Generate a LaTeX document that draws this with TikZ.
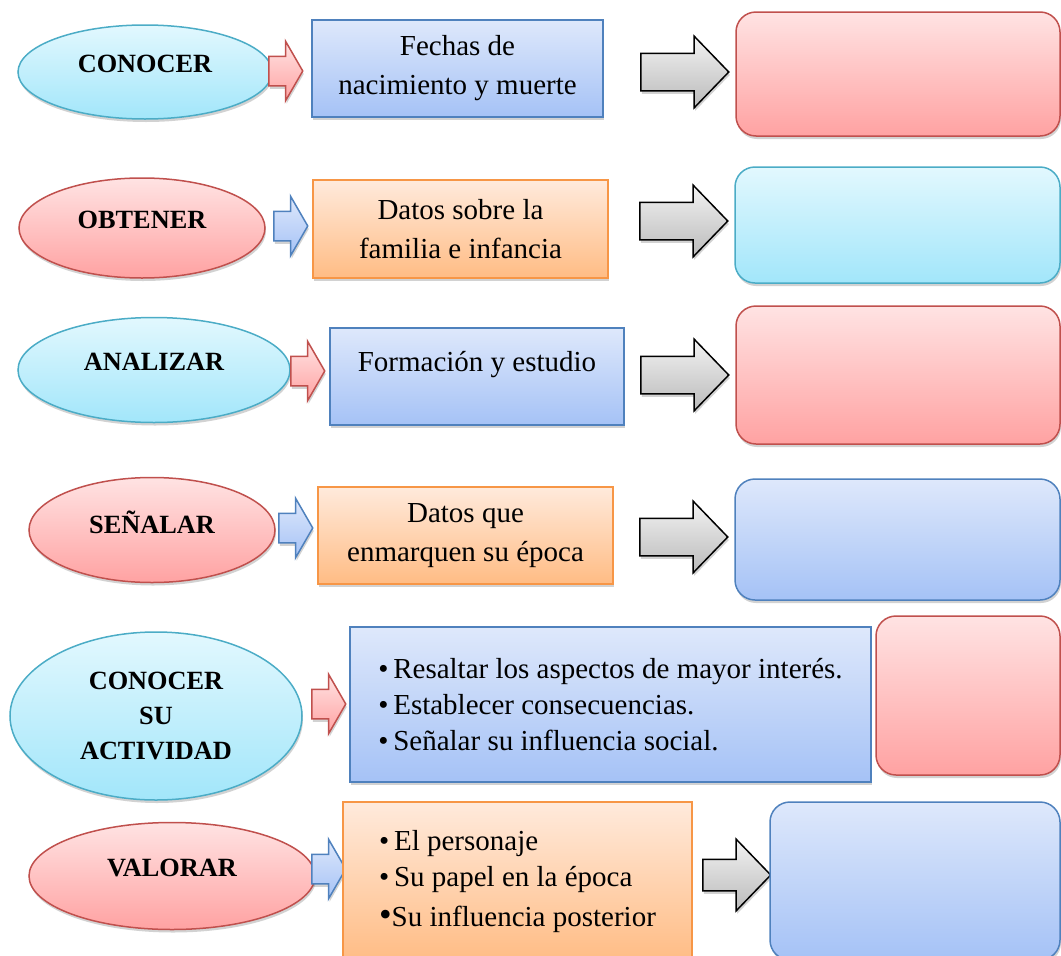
\documentclass[tikz,border=0pt]{standalone}
\usepackage{fontspec}
\setmainfont{Liberation Serif}
\usetikzlibrary{
  shapes.geometric,
  shapes.arrows,
  shadows,
  positioning
}
\definecolor{aqualine}{HTML}{4BACC6}
\definecolor{aquatop}{HTML}{E2F8FE}
\definecolor{aquabot}{HTML}{A2E6FA}
\definecolor{redline}{HTML}{C0504D}
\definecolor{redtop}{HTML}{FFE3E3}
\definecolor{redbot}{HTML}{FFA2A2}
\definecolor{blueline}{HTML}{4F81BD}
\definecolor{bluetop}{HTML}{DEE8FB}
\definecolor{bluebot}{HTML}{A5C2F6}
\definecolor{orangeline}{HTML}{F79646}
\definecolor{orangetop}{HTML}{FFEADC}
\definecolor{orangebot}{HTML}{FFBC84}

\begin{document}
\begin{tikzpicture}[
      x=1pt,y=-1pt,
      every node/.style={inner sep=0pt},
      aqua fill/.style={draw=aqualine, top color=aquatop, bottom color=aquabot},
      red fill/.style={draw=redline, top color=redtop, bottom color=redbot},
      blue fill/.style={draw=blueline, top color=bluetop, bottom color=bluebot},
      orange fill/.style={draw=orangeline, top color=orangetop, bottom color=orangebot},
      gray fill/.style={draw=black, top color=black!5, bottom color=black!27},
      soft shadow/.style={
         drop shadow={opacity=0.25, shadow xshift=1pt, shadow yshift=-3pt, fill=black!70}
      },
      verb/.style={
         ellipse,
         line width=1.5pt,
         soft shadow,
         align=center,
         font=\fontsize{26.3}{35}\selectfont\bfseries
      },
      one line/.style={text depth=16pt},
      topic/.style={
         rectangle,
         line width=1.5pt,
         soft shadow,
         align=center,
         font=\fontsize{29}{39}\selectfont
      },
      list/.style={align=left, font=\fontsize{29}{36}\selectfont},
      result/.style={
         rectangle,
         rounded corners=20pt,
         line width=1.5pt,
         soft shadow
      },
      link arrow/.style={
         single arrow, anchor=tail,
         line width=1.5pt,
         minimum height=34pt, minimum width=58pt,
         inner xsep=0pt, inner ysep=14pt,
         single arrow head extend=15pt,
         single arrow tip angle=120,
         soft shadow
      },
      next arrow/.style={
         single arrow, anchor=tail,
         line width=1.5pt, gray fill,
         minimum height=88pt, minimum width=70pt,
         inner xsep=0pt, inner ysep=18pt,
         single arrow head extend=17pt,
         single arrow tip angle=92,
         soft shadow
      }
    ]
    \useasboundingbox (0,0) rectangle (1061,956);

    % row 1
    \node (conocer) [verb, one line, aqua fill, minimum width=254pt, minimum height=94pt] at (145,72) {CONOCER};
    \node (l1) [link arrow, red fill] at (268,71) {};
    \node (fechas) [topic, blue fill, minimum width=291pt, minimum height=97pt] at (457.5,68.5) {Fechas de\\nacimiento y muerte};
    \node (n1) [next arrow] at (640,72) {};
    \node (res1) [result, red fill, minimum width=324pt, minimum height=124pt] at (898,74) {};

    % row 2
    \node (obtener) [verb, one line, red fill, minimum width=246pt, minimum height=100pt] at (142,228) {OBTENER};
    \node (l2) [link arrow, blue fill] at (273,226) {};
    \node (familia) [topic, orange fill, minimum width=295pt, minimum height=98pt] at (460.5,229) {Datos sobre la\\familia e infancia};
    \node (n2) [next arrow] at (639,221) {};
    \node (res2) [result, aqua fill, minimum width=325pt, minimum height=116pt] at (897.5,225) {};

    % row 3
    \node (analizar) [verb, one line, aqua fill, minimum width=272pt, minimum height=105pt] at (154,370) {ANALIZAR};
    \node (l3) [link arrow, red fill] at (290,371) {};
    \node (formacion) [topic, blue fill, text depth=30pt, minimum width=294pt, minimum height=97pt] at (477,376.5) {Formación y estudio};
    \node (n3) [next arrow] at (640,375) {};
    \node (res3) [result, red fill, minimum width=324pt, minimum height=138pt] at (898,375) {};

    % row 4
    \node (senalar) [verb, one line, red fill, minimum width=246pt, minimum height=105pt] at (152,530) {SEÑALAR};
    \node (l4) [link arrow, blue fill] at (278,528) {};
    \node (epoca) [topic, orange fill, minimum width=295pt, minimum height=97pt] at (465.5,535.5) {Datos que\\enmarquen su época};
    \node (n4) [next arrow] at (639,537) {};
    \node (res4) [result, blue fill, minimum width=325pt, minimum height=121pt] at (897.5,539.5) {};

    % row 5
    \node (actividad) [verb, aqua fill, minimum width=292pt, minimum height=168pt] at (156,716) {CONOCER\\SU\\ACTIVIDAD};
    \node (l5) [link arrow, red fill] at (311,704) {};
    \node (aspectos) [topic, list, blue fill, minimum width=521pt, minimum height=155pt] at (610.5,704.5)
       {\textbullet\,Resaltar los aspectos de mayor interés.\\
        \textbullet\,Establecer consecuencias.\\
        \textbullet\,Señalar su influencia social.};
    \node (res5) [result, red fill, minimum width=184pt, minimum height=159pt] at (968,695.5) {};

    % row 6
    \node (valorar) [verb, one line, red fill, minimum width=286pt, minimum height=107pt] at (172,876) {VALORAR};
    \node (l6) [link arrow, blue fill] at (311,869) {};
    \node (papel) [topic, list, orange fill, minimum width=349pt, minimum height=160pt] at (517.5,882)
       {\textbullet\,El personaje\\
        \textbullet\,Su papel en la época\\[4pt]
        {\fontsize{36}{36}\selectfont\textbullet}Su influencia posterior};
    \node (n6) [next arrow, minimum height=68pt, inner ysep=15pt, single arrow head extend=20pt] at (702,875) {};
    \node (res6) [result, blue fill, minimum width=290pt, minimum height=158pt] at (915,881) {};
\end{tikzpicture}
\end{document}
